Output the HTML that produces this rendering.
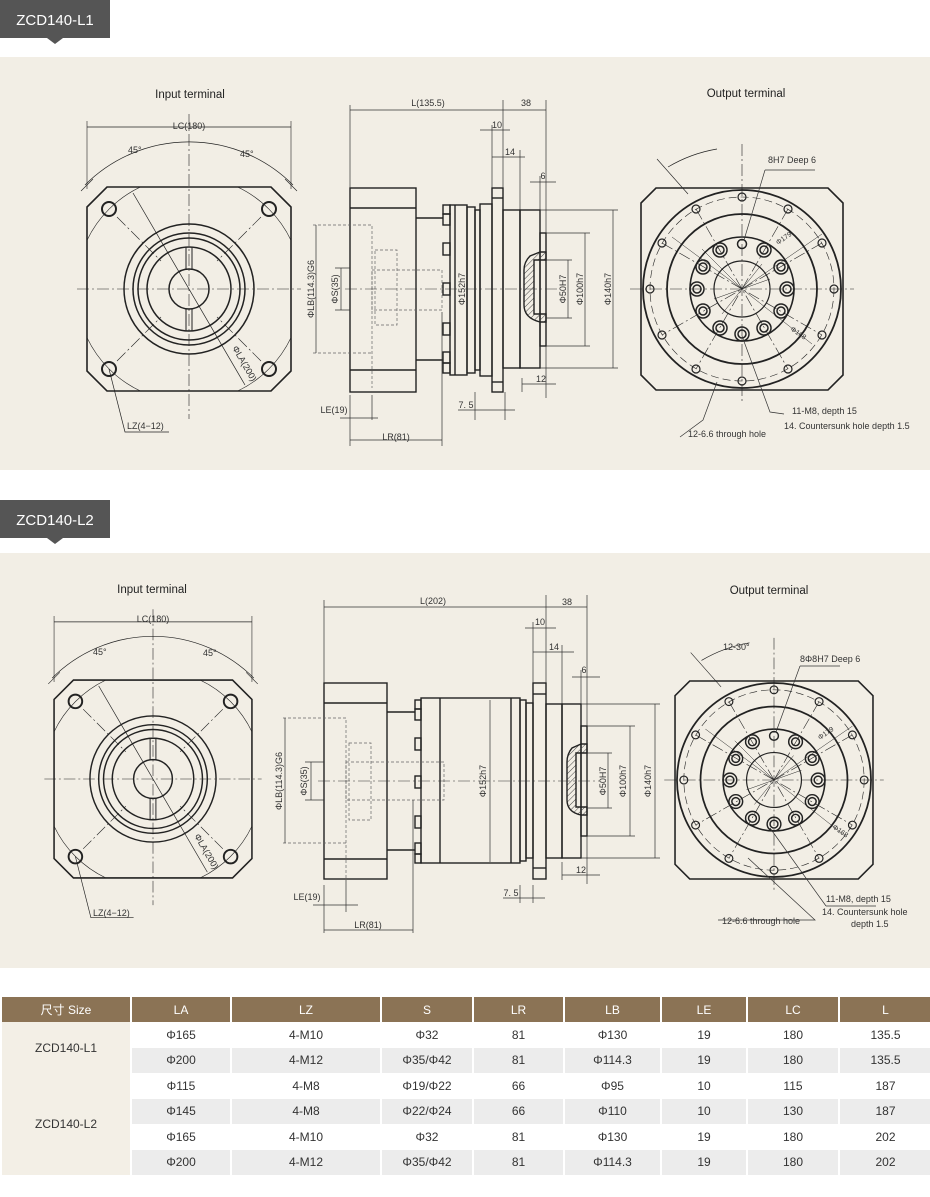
<!DOCTYPE html>
<html><head><meta charset="utf-8"><style>
body{margin:0;width:930px;height:1197px;background:#fff;position:relative;overflow:hidden;font-family:"Liberation Sans","Noto Sans CJK SC",sans-serif}
svg{position:absolute;left:0;top:0}
table{position:absolute;left:0;top:997px;width:930px;border-collapse:collapse;table-layout:fixed;font-size:12px;color:#333}
td,th{height:25.5px;padding:0;text-align:center;border-left:2px solid #fff;font-weight:normal}
th{background:#8b7355;color:#fff;height:25px}
tr.g td{background:#ececec}
td.sz{background:#f3efe6}
</style></head><body>
<svg width="930" height="1197" viewBox="0 0 930 1197" font-family="Liberation Sans, sans-serif">
<defs>
<clipPath id="sq"><path d="M-82,-102 L82,-102 L102,-82 L102,82 L82,102 L-82,102 L-102,82 L-102,-82 Z"/></clipPath>
<g id="inp" fill="none" stroke="#222">
<path d="M-82,-102 L82,-102 L102,-82 L102,82 L82,102 L-82,102 L-102,82 L-102,-82 Z" stroke-width="1.6"/>
<circle r="113" stroke-width="0.6" clip-path="url(#sq)"/>
<circle r="65" stroke-width="1.5"/><circle r="56" stroke-width="1.5"/><circle r="51" stroke-width="1.5"/><circle r="42" stroke-width="1.5"/><circle r="20" stroke-width="1.5"/>
<rect x="-3" y="-42" width="6" height="22" stroke-width="1"/><rect x="-3" y="20" width="6" height="22" stroke-width="1"/>
<g stroke-width="2"><circle cx="-80" cy="-80" r="7"/><circle cx="80" cy="-80" r="7"/><circle cx="-80" cy="80" r="7"/><circle cx="80" cy="80" r="7"/></g>
<g stroke-width="0.6" stroke-dasharray="12,3,2,3"><line x1="-112" y1="0" x2="112" y2="0"/><line x1="0" y1="-175" x2="0" y2="130"/><line x1="-72" y1="-72" x2="-28" y2="-28"/><line x1="72" y1="-72" x2="28" y2="-28"/><line x1="-72" y1="72" x2="-28" y2="28"/><line x1="72" y1="72" x2="28" y2="28"/></g>
<path d="M-104,-104 A147,147 0 0 1 104,-104" stroke-width="0.7"/>
<line x1="-102" y1="-162" x2="102" y2="-162" stroke-width="0.7"/>
<line x1="-102" y1="-168" x2="-102" y2="-100" stroke-width="0.6"/><line x1="102" y1="-168" x2="102" y2="-100" stroke-width="0.6"/>
<line x1="-108" y1="-98" x2="-96" y2="-110" stroke-width="0.6"/><line x1="108" y1="-98" x2="96" y2="-110" stroke-width="0.6"/>
<line x1="-56" y1="-96" x2="56" y2="96" stroke-width="0.7"/>
<path d="M-80,80 L-64,143 L-20,143" stroke-width="0.7"/>
</g>
<g id="outp" fill="none" stroke="#222">
<path d="M-86,-101 L86,-101 L101,-86 L101,86 L86,101 L-86,101 L-101,86 L-101,-86 Z" stroke-width="1.6"/>
<circle r="99" stroke-width="1.8"/><circle r="92" stroke-width="0.6" stroke-dasharray="8,4"/><circle r="75" stroke-width="1.8"/><circle r="52" stroke-width="1.6"/><circle r="28" stroke-width="1.2"/>
<g stroke-width="0.6" stroke-dasharray="12,3,2,3"><line x1="-112" y1="0" x2="112" y2="0"/><line x1="0" y1="-145" x2="0" y2="112"/><line x1="-46" y1="-80" x2="46" y2="80"/><line x1="46" y1="-80" x2="-46" y2="80"/><line x1="-80" y1="-46" x2="80" y2="46"/><line x1="80" y1="-46" x2="-80" y2="46"/></g>
<g stroke-width="1.2">
<circle cx="92" cy="0" r="4"/><circle cx="-92" cy="0" r="4"/><circle cx="0" cy="92" r="4"/><circle cx="0" cy="-92" r="4"/>
<circle cx="46" cy="80" r="4"/><circle cx="-46" cy="80" r="4"/><circle cx="46" cy="-80" r="4"/><circle cx="-46" cy="-80" r="4"/>
<circle cx="80" cy="46" r="4"/><circle cx="-80" cy="46" r="4"/><circle cx="80" cy="-46" r="4"/><circle cx="-80" cy="-46" r="4"/>
</g>
<g stroke-width="1.5">
<circle cx="0" cy="-45" r="4.5"/>
<circle cx="22" cy="-39" r="7"/><circle cx="22" cy="-39" r="4"/><circle cx="-22" cy="-39" r="7"/><circle cx="-22" cy="-39" r="4"/>
<circle cx="39" cy="-22" r="7"/><circle cx="39" cy="-22" r="4"/><circle cx="-39" cy="-22" r="7"/><circle cx="-39" cy="-22" r="4"/>
<circle cx="45" cy="0" r="7"/><circle cx="45" cy="0" r="4"/><circle cx="-45" cy="0" r="7"/><circle cx="-45" cy="0" r="4"/>
<circle cx="39" cy="22" r="7"/><circle cx="39" cy="22" r="4"/><circle cx="-39" cy="22" r="7"/><circle cx="-39" cy="22" r="4"/>
<circle cx="22" cy="39" r="7"/><circle cx="22" cy="39" r="4"/><circle cx="-22" cy="39" r="7"/><circle cx="-22" cy="39" r="4"/>
<circle cx="0" cy="45" r="7"/><circle cx="0" cy="45" r="4"/>
</g>
<g stroke-width="0.5"><line x1="-70" y1="-52" x2="0" y2="0"/><line x1="-40" y1="-40" x2="0" y2="0"/><line x1="0" y1="0" x2="80" y2="-55"/><line x1="0" y1="0" x2="70" y2="55"/><line x1="0" y1="0" x2="-20" y2="25"/><line x1="0" y1="0" x2="20" y2="-25"/><line x1="0" y1="0" x2="-28" y2="10"/><line x1="0" y1="0" x2="28" y2="-10"/></g>
<path d="M-74,-122 A143,143 0 0 1 -25,-140" stroke-width="0.7"/>
<line x1="-85" y1="-130" x2="-54" y2="-95" stroke-width="0.6"/>
</g>
<pattern id="h" width="4" height="4" patternUnits="userSpaceOnUse" patternTransform="rotate(45)"><line x1="0" y1="0" x2="0" y2="4" stroke="#444" stroke-width="1"/></pattern>
</defs>

<!-- L1 -->
<path d="M0,0 H110 V38 H63 L55,44 L47,38 H0 Z" fill="#555"/>
<text x="55" y="25" fill="#fff" font-size="15" text-anchor="middle">ZCD140-L1</text>
<rect x="0" y="57" width="930" height="413" fill="#f2eee5"/>
<text x="190" y="98" font-size="11.5" text-anchor="middle" fill="#222">Input terminal</text>
<text x="746" y="97" font-size="11.5" text-anchor="middle" fill="#222">Output terminal</text>
<use href="#inp" x="189" y="289"/>
<g font-size="9" fill="#333">
<text x="189" y="129" text-anchor="middle">LC(180)</text>
<text x="128" y="153">45°</text><text x="240" y="157">45°</text>
<text x="127" y="429">LZ(4−12)</text>
<text transform="translate(232,348) rotate(60)">ΦLA(200)</text>
</g>
<use href="#outp" x="742" y="289"/>
<g font-size="9" fill="#333">
<text x="768" y="163">8H7 Deep 6</text>
<text x="792" y="414">11-M8, depth 15</text>
<text x="784" y="429">14. Countersunk hole depth 1.5</text>
<text x="688" y="437">12-6.6 through hole</text>
<text transform="translate(778,245) rotate(-35)" font-size="7">Φ179</text>
<text transform="translate(790,330) rotate(35)" font-size="7">Φ168</text>
</g>
<g fill="none" stroke="#333" stroke-width="0.7">
<path d="M765,170 H815 M765,170 L744,240 M680,437 L703,420 L717,382 M784,414 L770,412 L742,336"/>
</g>

<!-- L1 side view -->
<g fill="none" stroke="#222" stroke-width="1.4">
<rect x="350" y="188" width="66" height="204"/><line x1="350" y1="208" x2="416" y2="208"/><line x1="350" y1="370" x2="416" y2="370"/>
<line x1="416" y1="218" x2="443" y2="218"/><line x1="416" y1="360" x2="443" y2="360"/>
<rect x="443" y="205" width="7" height="9"/><rect x="443" y="214" width="7" height="11"/><rect x="443" y="243" width="7" height="12"/><rect x="443" y="283" width="7" height="12"/><rect x="443" y="323" width="7" height="12"/><rect x="443" y="352" width="7" height="11"/><rect x="443" y="363" width="7" height="10"/>
<rect x="450" y="205" width="17" height="170"/><line x1="455" y1="205" x2="455" y2="375"/>
<rect x="467" y="207" width="8" height="166"/><rect x="475" y="210" width="5" height="160"/><rect x="480" y="204" width="12" height="172"/>
<rect x="492" y="188" width="11" height="204"/><line x1="492" y1="198" x2="503" y2="198"/><line x1="492" y1="382" x2="503" y2="382"/>
<rect x="503" y="210" width="17" height="158"/><rect x="520" y="210" width="20" height="158"/><rect x="540" y="233" width="6" height="113"/>
<path d="M540,252 L530,256 Q524,262 524,270 L524,305 Q524,318 540,322 L546,322 L546,314 L534,314 L534,260 L546,260 L546,252 Z" fill="url(#h)"/>
</g>
<g fill="none" stroke="#666" stroke-width="0.7" stroke-dasharray="3,2">
<path d="M313,225 H372 V388 M313,353 H372"/><rect x="375" y="250" width="22" height="75"/><rect x="372" y="270" width="70" height="40"/>
</g>
<line x1="345" y1="289" x2="560" y2="289" stroke="#333" stroke-width="0.6" stroke-dasharray="12,3,2,3"/>
<g fill="none" stroke="#333" stroke-width="0.7">
<path d="M350,105 V188 M503,100 V188 M546,100 V233 M350,110 H546 M480,130 H510 M492,125 V188 M492,157 H525 M520,150 V210 M530,182 H556 M540,176 V210"/>
<path d="M546,260 H572 M546,318 H572 M568,260 V318 M546,233 H590 M546,346 H590 M585,233 V346 M540,210 H618 M540,368 H618 M613,210 V368"/>
<path d="M316,225 V353 M341,268 V310 M335,268 H350 M335,310 H350"/>
<path d="M522,392 V378 M546,398 V346 M522,384 H556 M475,392 V420 M505,392 V420 M458,410 H515 M340,418 H378 M372,395 V420 M350,395 V446 M442,312 V446 M350,440 H442"/>
</g>
<g font-size="9" fill="#333">
<text x="428" y="106" text-anchor="middle">L(135.5)</text><text x="526" y="106" text-anchor="middle">38</text>
<text x="497" y="128" text-anchor="middle">10</text><text x="510" y="155" text-anchor="middle">14</text><text x="543" y="179" text-anchor="middle">6</text>
<text x="541" y="382" text-anchor="middle">12</text><text x="466" y="408" text-anchor="middle">7. 5</text>
<text x="334" y="413" text-anchor="middle">LE(19)</text><text x="396" y="440" text-anchor="middle">LR(81)</text>
<text transform="translate(465,289) rotate(-90)" text-anchor="middle">Φ152h7</text>
<text transform="translate(566,289) rotate(-90)" text-anchor="middle">Φ50H7</text>
<text transform="translate(583,289) rotate(-90)" text-anchor="middle">Φ100h7</text>
<text transform="translate(611,289) rotate(-90)" text-anchor="middle">Φ140h7</text>
<text transform="translate(314,289) rotate(-90)" text-anchor="middle">ΦLB(114.3)G6</text>
<text transform="translate(338,289) rotate(-90)" text-anchor="middle">ΦS(35)</text>
</g>

<!-- L2 -->
<path d="M0,500 H110 V538 H63 L55,544 L47,538 H0 Z" fill="#555"/>
<text x="55" y="525" fill="#fff" font-size="15" text-anchor="middle">ZCD140-L2</text>
<rect x="0" y="553" width="930" height="415" fill="#f2eee5"/>
<text x="152" y="593" font-size="11.5" text-anchor="middle" fill="#222">Input terminal</text>
<text x="769" y="594" font-size="11.5" text-anchor="middle" fill="#222">Output terminal</text>
<use href="#inp" transform="translate(153,779) scale(0.97)"/>
<g font-size="9" fill="#333">
<text x="153" y="622" text-anchor="middle">LC(180)</text>
<text x="93" y="655">45°</text><text x="203" y="656">45°</text>
<text x="93" y="916">LZ(4−12)</text>
<text transform="translate(194,836) rotate(60)">ΦLA(200)</text>
</g>
<use href="#outp" transform="translate(774,780) scale(0.98)"/>
<g font-size="9" fill="#333">
<text x="800" y="662">8Φ8H7 Deep 6</text>
<text x="723" y="650">12-30°</text>
<text x="826" y="902">11-M8, depth 15</text>
<text x="822" y="915">14. Countersunk hole</text>
<text x="851" y="927">depth 1.5</text>
<text x="722" y="924">12-6.6 through hole</text>
<text transform="translate(820,740) rotate(-35)" font-size="7">Φ179</text>
<text transform="translate(832,828) rotate(35)" font-size="7">Φ168</text>
</g>
<g fill="none" stroke="#333" stroke-width="0.7">
<path d="M800,666 H840 M800,666 L776,732 M718,920 H815 L748,858 M826,906 H876 M826,906 L770,828"/>
</g>

<!-- L2 side view -->
<g fill="none" stroke="#222" stroke-width="1.4">
<rect x="324" y="683" width="63" height="196"/><line x1="324" y1="703" x2="387" y2="703"/><line x1="324" y1="859" x2="387" y2="859"/>
<line x1="387" y1="712" x2="415" y2="712"/><line x1="387" y1="850" x2="415" y2="850"/>
<rect x="415" y="700" width="6" height="9"/><rect x="415" y="709" width="6" height="11"/><rect x="415" y="738" width="6" height="12"/><rect x="415" y="776" width="6" height="12"/><rect x="415" y="816" width="6" height="12"/><rect x="415" y="843" width="6" height="11"/><rect x="415" y="854" width="6" height="9"/>
<rect x="421" y="698" width="99" height="165"/><line x1="440" y1="698" x2="440" y2="863"/><line x1="511" y1="698" x2="511" y2="863"/>
<rect x="520" y="700" width="6" height="161"/><rect x="526" y="703" width="7" height="155"/>
<rect x="533" y="683" width="13" height="196"/><line x1="533" y1="694" x2="546" y2="694"/><line x1="533" y1="868" x2="546" y2="868"/>
<rect x="546" y="704" width="16" height="154"/><rect x="562" y="704" width="19" height="154"/><rect x="581" y="726" width="6" height="110"/>
<path d="M581,744 L572,748 Q567,754 567,762 L567,800 Q567,812 581,815 L587,815 L587,807 L576,807 L576,753 L587,753 L587,744 Z" fill="url(#h)"/>
</g>
<g fill="none" stroke="#666" stroke-width="0.7" stroke-dasharray="3,2">
<path d="M283,718 H346 V878 M283,843 H346"/><rect x="349" y="743" width="22" height="77"/><rect x="346" y="762" width="98" height="38"/>
</g>
<line x1="318" y1="781" x2="600" y2="781" stroke="#333" stroke-width="0.6" stroke-dasharray="12,3,2,3"/>
<g fill="none" stroke="#333" stroke-width="0.7">
<path d="M324,600 V683 M546,595 V683 M587,595 V726 M324,607 H587 M525,628 H556 M533,622 V683 M533,652 H574 M562,645 V704 M572,677 H600 M581,670 V704"/>
<path d="M587,753 H612 M587,808 H612 M608,753 V808 M587,726 H635 M587,836 H635 M630,726 V836 M581,704 H660 M581,858 H660 M655,704 V858"/>
<path d="M285,718 V843 M311,762 V800 M305,762 H324 M305,800 H324 M490,700 V862"/>
<path d="M562,880 V862 M587,884 V836 M562,875 H600 M520,885 V903 M533,885 V903 M503,898 H545 M313,905 H358 M346,880 V912 M324,885 V933 M413,800 V933 M324,930 H413"/>
</g>
<g font-size="9" fill="#333">
<text x="433" y="604" text-anchor="middle">L(202)</text><text x="567" y="605" text-anchor="middle">38</text>
<text x="540" y="625" text-anchor="middle">10</text><text x="554" y="650" text-anchor="middle">14</text><text x="584" y="673" text-anchor="middle">6</text>
<text x="581" y="873" text-anchor="middle">12</text><text x="511" y="896" text-anchor="middle">7. 5</text>
<text x="307" y="900" text-anchor="middle">LE(19)</text><text x="368" y="928" text-anchor="middle">LR(81)</text>
<text transform="translate(486,781) rotate(-90)" text-anchor="middle">Φ152h7</text>
<text transform="translate(606,781) rotate(-90)" text-anchor="middle">Φ50H7</text>
<text transform="translate(626,781) rotate(-90)" text-anchor="middle">Φ100h7</text>
<text transform="translate(651,781) rotate(-90)" text-anchor="middle">Φ140h7</text>
<text transform="translate(282,781) rotate(-90)" text-anchor="middle">ΦLB(114.3)G6</text>
<text transform="translate(307,781) rotate(-90)" text-anchor="middle">ΦS(35)</text>
</g>
</svg>

<table>
<colgroup><col style="width:130px"><col style="width:100px"><col style="width:150px"><col style="width:92px"><col style="width:91px"><col style="width:97px"><col style="width:86px"><col style="width:92px"><col style="width:92px"></colgroup>
<tr><th>尺寸 Size</th><th>LA</th><th>LZ</th><th>S</th><th>LR</th><th>LB</th><th>LE</th><th>LC</th><th>L</th></tr>
<tr><td class="sz" rowspan="2">ZCD140-L1</td><td>Φ165</td><td>4-M10</td><td>Φ32</td><td>81</td><td>Φ130</td><td>19</td><td>180</td><td>135.5</td></tr>
<tr class="g"><td>Φ200</td><td>4-M12</td><td>Φ35/Φ42</td><td>81</td><td>Φ114.3</td><td>19</td><td>180</td><td>135.5</td></tr>
<tr><td class="sz" rowspan="4">ZCD140-L2</td><td>Φ115</td><td>4-M8</td><td>Φ19/Φ22</td><td>66</td><td>Φ95</td><td>10</td><td>115</td><td>187</td></tr>
<tr class="g"><td>Φ145</td><td>4-M8</td><td>Φ22/Φ24</td><td>66</td><td>Φ110</td><td>10</td><td>130</td><td>187</td></tr>
<tr><td>Φ165</td><td>4-M10</td><td>Φ32</td><td>81</td><td>Φ130</td><td>19</td><td>180</td><td>202</td></tr>
<tr class="g"><td>Φ200</td><td>4-M12</td><td>Φ35/Φ42</td><td>81</td><td>Φ114.3</td><td>19</td><td>180</td><td>202</td></tr>
</table>
</body></html>
